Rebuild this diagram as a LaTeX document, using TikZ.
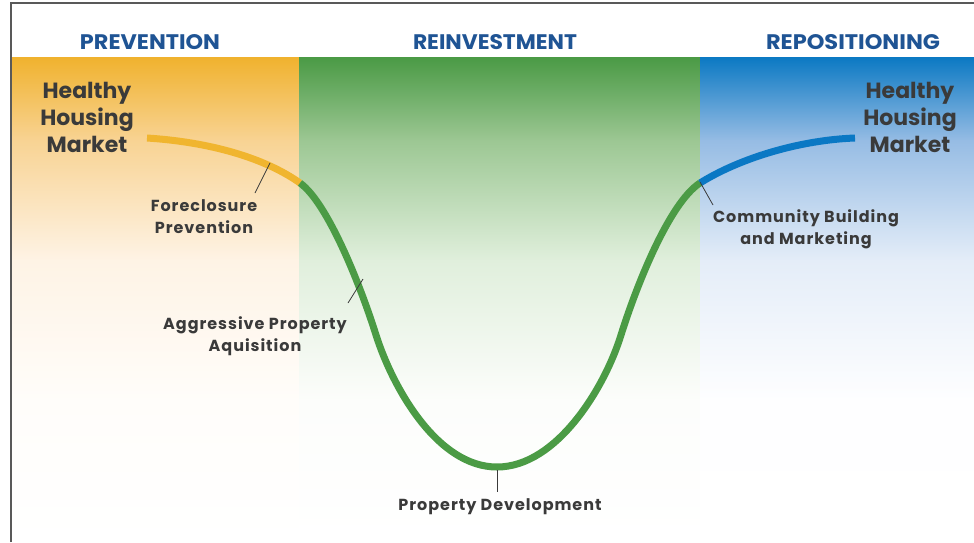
\documentclass[tikz,border=0pt]{standalone}
\usepackage{fontspec}
\setmainfont{Poppins}
\newfontfamily\lblfont{Poppins}[LetterSpace=6]
\usepackage{graphicx}

\definecolor{hdrblue}{HTML}{1F5494}
\definecolor{txtgray}{HTML}{3A3A3A}
\definecolor{cyel}{HTML}{F0B52F}
\definecolor{cgrn}{HTML}{4B9B45}
\definecolor{cblu}{HTML}{0A78C4}
% band colour stops, top to bottom
\definecolor{orgA}{HTML}{F0B22E}\definecolor{orgB}{HTML}{F8D393}
\definecolor{orgC}{HTML}{FEF3E5}\definecolor{orgD}{HTML}{FFFDFA}
\definecolor{grnA}{HTML}{4A9A45}\definecolor{grnB}{HTML}{9CC793}
\definecolor{grnC}{HTML}{E0EFDC}\definecolor{grnD}{HTML}{FCFDFB}
\definecolor{bluA}{HTML}{0B79C3}\definecolor{bluB}{HTML}{96BCE4}
\definecolor{bluC}{HTML}{E4EDF8}\definecolor{bluD}{HTML}{FEFEFF}

% vertical band fading from a saturated top to white
\newcommand\shadeband[6]{%
  \fill[top color=#3, bottom color=#4] (#1,57) rectangle (#2,140.5);
  \fill[top color=#4, bottom color=#5] (#1,140) rectangle (#2,260.5);
  \fill[top color=#5, bottom color=#6] (#1,260) rectangle (#2,400.5);
  \fill[top color=#6, bottom color=white] (#1,400) rectangle (#2,542);
}

\begin{document}
\begin{tikzpicture}[x=1pt,y=-1pt,
  hdr/.style={inner sep=0pt, text=hdrblue, font=\bfseries},
  mkt/.style={inner sep=0pt, text=txtgray, align=center, anchor=north,
    font=\fontsize{22}{27}\selectfont\bfseries},
  lbl/.style={inner sep=0pt, text=txtgray, align=center, anchor=north,
    font=\lblfont\fontsize{16}{22}\selectfont\bfseries},
  stage/.style={line width=7pt, line cap=butt},
  leader/.style={draw=txtgray, line width=0.8pt}]

\useasboundingbox (0,0) rectangle (974,542);
\fill[white] (0,0) rectangle (974,542);

% three stage bands
\shadeband{11}{299.5}{orgA}{orgB}{orgC}{orgD}
\shadeband{299}{700.5}{grnA}{grnB}{grnC}{grnD}
\shadeband{700}{974}{bluA}{bluB}{bluC}{bluD}

% frame
\draw[draw=black!65, line width=1.6pt] (11,542) -- (11,3) -- (974,3);

% stage headings
\node[hdr] (hprev) at (150,42) {\resizebox{140pt}{15pt}{PREVENTION}};
\node[hdr] (hrein) at (495,42) {\resizebox{164pt}{15pt}{REINVESTMENT}};
\node[hdr] (hrepo) at (853,42) {\resizebox{174pt}{15pt}{REPOSITIONING}};

% market cycle curve
\coordinate (ystart) at (147,138);
\coordinate (j1) at (300,183);
\coordinate (inflL) at (376,335);
\coordinate (trough) at (497,467);
\coordinate (inflR) at (621,335);
\coordinate (j2) at (700,183);
\coordinate (bend) at (855,138);

\draw[stage, cyel] (ystart) .. controls (210,142) and (265,158) .. (j1);
\draw[stage, cblu] (j2) .. controls (740,158) and (800,140) .. (bend);
\draw[stage, cgrn] (j1) .. controls (328,203) and (361,287) .. (inflL)
  .. controls (392.5,387) and (437,467) .. (trough)
  .. controls (557,467) and (605,387) .. (inflR)
  .. controls (636,287) and (669,203) .. (j2);

% end labels
\node[mkt] (hhmL) at (87,82) {Healthy\\Housing\\Market};
\node[mkt] (hhmR) at (910,82) {Healthy\\Housing\\Market};

% step labels
\node[lbl] (fp) at (204,199) {Foreclosure\\Prevention};
\node[lbl] (apa) at (255,316) {Aggressive Property\\Aquisition};
\node[lbl] (pd) at (500,498) {Property Development};
\node[lbl] (cbm) at (806,209) {Community Building\\and Marketing};

% leaders from curve to labels
\coordinate (fpOn) at (270,163);   \coordinate (fpEnd) at (255,193);
\coordinate (apaOn) at (363,279);  \coordinate (apaEnd) at (348,303);
\coordinate (pdOn) at (497,470);   \coordinate (pdEnd) at (497,492);
\coordinate (cbmOn) at (700,182);  \coordinate (cbmEnd) at (713,205);
\draw[leader] (fpOn) -- (fpEnd);
\draw[leader] (apaOn) -- (apaEnd);
\draw[leader] (pdOn) -- (pdEnd);
\draw[leader] (cbmOn) -- (cbmEnd);
\end{tikzpicture}
\end{document}
